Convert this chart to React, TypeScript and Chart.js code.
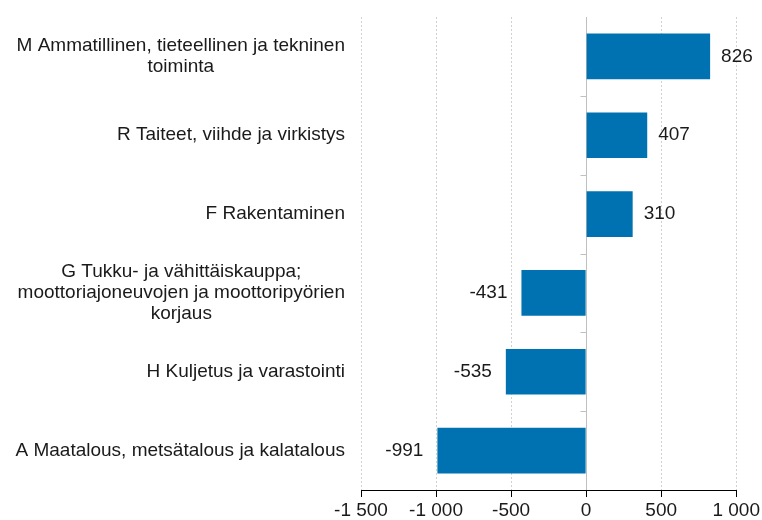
import React, { useEffect, useRef } from "react";
import { Chart, registerables } from "chart.js";

Chart.register(...registerables);

const categories: string[][] = [
  ["M Ammatillinen, tieteellinen ja tekninen", "toiminta"],
  ["R Taiteet, viihde ja virkistys"],
  ["F Rakentaminen"],
  ["G Tukku- ja vähittäiskauppa;", "moottoriajoneuvojen ja moottoripyörien", "korjaus"],
  ["H Kuljetus ja varastointi"],
  ["A Maatalous, metsätalous ja kalatalous"],
];
const values: number[] = [826, 407, 310, -431, -535, -991];
const xMin = -1500;
const xMax = 1000;
const xStep = 500;

const FONT = "'Liberation Sans', Arial, sans-serif";
const FONT_SIZE = 19;
const TEXT = "#1a1a1a";
const BAR = "#0072b2";

function fmt(v: number): string {
  const s = Math.abs(v).toString();
  const withSep = s.replace(/\B(?=(\d{3})+(?!\d))/g, " ");
  return (v < 0 ? "-" : "") + withSep;
}

const extrasPlugin = {
  id: "extras",
  afterDraw(chart: any) {
    const ctx = chart.ctx;
    const yScale = chart.scales.y;
    const xScale = chart.scales.x;
    ctx.save();
    // category labels
    ctx.font = `${FONT_SIZE}px ${FONT}`;
    ctx.fillStyle = TEXT;
    ctx.textBaseline = "middle";
    ctx.textAlign = "center";
    const rightEdge = 345;
    const lh = 21;
    categories.forEach((lines, i) => {
      const cy = yScale.getPixelForValue(i);
      const w = Math.max(...lines.map((l) => ctx.measureText(l).width));
      const cx = rightEdge - w / 2;
      const start = cy - ((lines.length - 1) * lh) / 2;
      lines.forEach((l, j) => ctx.fillText(l, cx, start + j * lh));
    });
    // small ticks at category boundaries on zero line
    const zx = Math.round(xScale.getPixelForValue(0)) + 0.5;
    ctx.strokeStyle = "#bfbfbf";
    ctx.lineWidth = 1;
    for (let i = 1; i < categories.length; i++) {
      const y = Math.round((yScale.getPixelForValue(i - 1) + yScale.getPixelForValue(i)) / 2) + 0.5;
      ctx.beginPath();
      ctx.moveTo(zx - 6, y);
      ctx.lineTo(zx, y);
      ctx.stroke();
    }
    // data labels
    const meta = chart.getDatasetMeta(0);
    ctx.fillStyle = TEXT;
    meta.data.forEach((bar: any, i: number) => {
      const v = values[i];
      if (v >= 0) {
        ctx.textAlign = "left";
        ctx.fillText(fmt(v), bar.x + 11, bar.y);
      } else {
        ctx.textAlign = "right";
        ctx.fillText(fmt(v), bar.x - 14, bar.y);
      }
    });
    ctx.restore();
  },
};

export default function App() {
  const ref = useRef<HTMLCanvasElement | null>(null);
  useEffect(() => {
    if (!ref.current) return;
    const chart = new Chart(ref.current, {
      type: "bar",
      data: {
        labels: categories.map((c) => c.join(" ")),
        datasets: [
          {
            data: values,
            backgroundColor: BAR,
            borderWidth: 0,
            barPercentage: 0.58,
            categoryPercentage: 1,
          },
        ],
      },
      options: {
        indexAxis: "y",
        animation: false,
        responsive: false,
        maintainAspectRatio: false,
        layout: { padding: { top: 17, right: 24, left: 0, bottom: 0 } },
        plugins: {
          legend: { display: false },
          tooltip: { enabled: false },
        },
        scales: {
          x: {
            min: xMin,
            max: xMax,
            afterFit: (s: any) => {
              s.height = 30;
            },
            ticks: {
              stepSize: xStep,
              color: TEXT,
              padding: 2,
              maxRotation: 0,
              font: { family: FONT, size: FONT_SIZE },
              callback: (v: any) => fmt(Number(v)),
            },
            grid: {
              color: (ctx: any) => (ctx.tick && ctx.tick.value === 0 ? "#bfbfbf" : "#d0d0d0"),
              lineWidth: 1,
              tickColor: "#000",
              tickLength: 7,
              tickBorderDash: [],
            },
            border: {
              display: true,
              color: "#000",
              width: 1,
              dash: (ctx: any) => (ctx.tick && ctx.tick.value !== 0 ? [2, 2] : []),
            },
          },
          y: {
            afterFit: (s: any) => {
              s.width = 361;
            },
            ticks: { display: false },
            grid: { display: false },
            border: { display: false },
          },
        },
      },
      plugins: [extrasPlugin],
    } as any);
    return () => chart.destroy();
  }, []);
  return (
    <div style={{ position: "absolute", left: 0, top: 0, width: 762, height: 520, background: "#fff" }}>
      <canvas ref={ref} width={762} height={520} style={{ display: "block" }} />
    </div>
  );
}
